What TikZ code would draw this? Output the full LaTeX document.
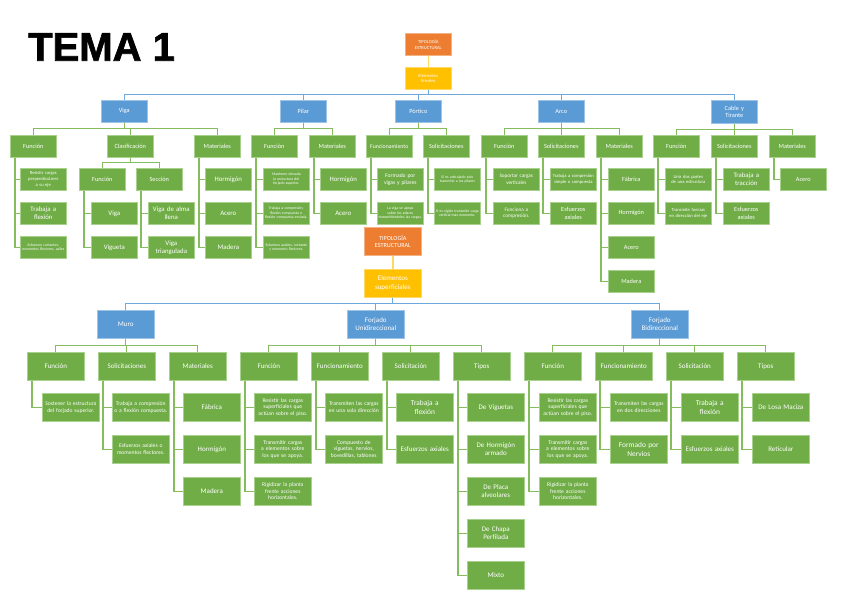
\documentclass[tikz,border=0pt]{standalone}
\usepackage{fontspec}
\setmainfont{Carlito}
\newfontfamily\cb{Carlito}
\newfontfamily\arl[FakeBold=1.6]{Liberation Sans}
\hyphenpenalty=10000
\exhyphenpenalty=10000
\definecolor{gF}{HTML}{70AD47}
\definecolor{gD}{HTML}{A9D18E}
\definecolor{gL}{HTML}{84BC5E}
\definecolor{bF}{HTML}{5B9BD5}
\definecolor{bD}{HTML}{9DC3E6}
\definecolor{bL}{HTML}{6FA8DC}
\definecolor{oF}{HTML}{ED7D31}
\definecolor{oD}{HTML}{F4B183}
\definecolor{yF}{HTML}{FFC000}
\definecolor{yD}{HTML}{FFD966}
\definecolor{yL}{HTML}{FFD966}
\tikzset{
 bx/.style={anchor=north west, align=center, text=white, inner sep=1pt, line width=0.6pt},
 gb/.style={bx, fill=gF, draw=gD},
 bb/.style={bx, fill=bF, draw=bD},
 ob/.style={bx, fill=oF, draw=oD},
 yb/.style={bx, fill=yF, draw=yD},
 T/.style={text width=44pt, minimum height=22pt},
 B/.style={text width=55pt, minimum height=28pt},
 hT/.style={font=\cb\fontsize{6.3}{7.4}\selectfont},
 sT/.style={font=\cb\fontsize{3.8}{4.6}\selectfont},
 s4/.style={font=\cb\fontsize{4.6}{5.6}\selectfont},
 mT/.style={font=\cb\fontsize{6.8}{8}\selectfont},
 hB/.style={font=\cb\fontsize{7}{8.4}\selectfont},
 sB/.style={font=\cb\fontsize{5.6}{6.7}\selectfont},
 mB/.style={font=\cb\fontsize{7.4}{8.8}\selectfont},
 gl/.style={draw=gL, line width=1.2pt},
 bl/.style={draw=bL, line width=1.2pt},
 yl/.style={draw=yL, line width=1.6pt},
}
\begin{document}
\begin{tikzpicture}[x=1pt,y=-1pt]
\useasboundingbox[fill=white] (0,0) rectangle (848,599);
\node[anchor=north west, inner sep=0pt, font=\arl\bfseries\fontsize{40}{40}\selectfont] (title) at (28,33) {TEMA 1};

% ---------- top tree ----------
\node[ob,T,s4] (tO) at (405,33) {TIPOLOGÍA\\ESTRUCTURAL};
\node[yb,T,s4] (tY) at (405,67) {Elementos\\lineales};
\node[bb,T,hT] (viga) at (101,100) {Viga};
\node[bb,T,hT] (pilar) at (280,100) {Pilar};
\node[bb,T,hT] (port) at (395,100) {Pórtico};
\node[bb,T,hT] (arco) at (538,100) {Arco};
\node[bb,T,hT,minimum height=23pt] (cab) at (711,100) {Cable y\\Tirante};

% Viga
\node[gb,T,hT] (vF) at (10,135) {Función};
\node[gb,T,hT] (vC) at (107,135) {Clasificación};
\node[gb,T,hT] (vM) at (194,135) {Materiales};
\node[gb,T,s4] (vF1) at (20,168) {Resistir cargas perpendiculares a su eje};
\node[gb,T,mT] (vF2) at (20,202) {Trabaja a\\flexión};
\node[gb,T,sT] (vF3) at (20,236) {Esfuerzos cortantes, momentos flectores, axiles};
\node[gb,T,hT] (vCF) at (79,168) {Función};
\node[gb,T,hT] (vCS) at (136,168) {Sección};
\node[gb,T,mT] (vCF1) at (91,202) {Viga};
\node[gb,T,mT] (vCF2) at (91,236) {Vigueta};
\node[gb,T,mT] (vCS1) at (148,202) {Viga de alma\\llena};
\node[gb,T,mT] (vCS2) at (148,236) {Viga\\triangulada};
\node[gb,T,mT] (vM1) at (205,168) {Hormigón};
\node[gb,T,mT] (vM2) at (205,202) {Acero};
\node[gb,T,mT] (vM3) at (205,236) {Madera};

% Pilar
\node[gb,T,hT] (pF) at (251,135) {Función};
\node[gb,T,hT] (pM) at (309,135) {Materiales};
\node[gb,T,sT] (pF1) at (263,168) {Mantener elevada la estructura del forjado superior.};
\node[gb,T,sT] (pF2) at (263,202) {Trabaja a compresión, flexión compuesta o flexión compuesta esviada.};
\node[gb,T,sT] (pF3) at (263,236) {Esfuerzos axiales, cortante y momento flectores.};
\node[gb,T,mT] (pM1) at (320,168) {Hormigón};
\node[gb,T,mT] (pM2) at (320,202) {Acero};

% Portico
\node[gb,T,font=\cb\fontsize{5.8}{7}\selectfont] (oF) at (366,135) {Funcionamiento};
\node[gb,T,hT] (oS) at (423,135) {Solicitaciones};
\node[gb,T,font=\cb\fontsize{5.6}{6.8}\selectfont] (oF1) at (377,168) {Formado por\\vigas y pilares};
\node[gb,T,sT] (oF2) at (377,202) {La viga se apoya sobre los pilares transmitiéndoles las cargas.};
\node[gb,T,sT] (oS1) at (434,168) {Si es articulado solo transmite a los pilares};
\node[gb,T,sT] (oS2) at (434,202) {Si es rígido transmite carga vertical más momento.};

% Arco
\node[gb,T,hT] (aF) at (481,135) {Función};
\node[gb,T,hT] (aS) at (538,135) {Solicitaciones};
\node[gb,T,hT] (aM) at (596,135) {Materiales};
\node[gb,T,font=\cb\fontsize{5.2}{6.4}\selectfont] (aF1) at (493,168) {Soportar cargas\\verticales};
\node[gb,T,font=\cb\fontsize{5.2}{6.4}\selectfont] (aF2) at (493,202) {Funciona a\\compresión.};
\node[gb,T,s4] (aS1) at (550,168) {Trabaja a compresión simple o compuesta};
\node[gb,T,hT] (aS2) at (550,202) {Esfuerzos\\axiales};
\node[gb,T,hT] (aM1) at (608,168) {Fábrica};
\node[gb,T,hT] (aM2) at (608,202) {Hormigón};
\node[gb,T,hT] (aM3) at (608,236) {Acero};
\node[gb,T,hT] (aM4) at (608,270) {Madera};

% Cable y Tirante
\node[gb,T,hT] (cF) at (653,135) {Función};
\node[gb,T,hT] (cS) at (711,135) {Solicitaciones};
\node[gb,T,hT] (cM) at (769,135) {Materiales};
\node[gb,T,s4] (cF1) at (665,168) {Unir dos partes de una estructura};
\node[gb,T,s4] (cF2) at (665,202) {Transmite fuerzas en dirección del eje};
\node[gb,T,mT] (cS1) at (723,168) {Trabaja a\\tracción};
\node[gb,T,hT] (cS2) at (723,202) {Esfuerzos\\axiales};
\node[gb,T,hT] (cM1) at (780,168) {Acero};

% ---------- bottom tree ----------
\node[ob,B,font=\cb\fontsize{6.2}{7.6}\selectfont] (bO) at (364,227) {TIPOLOGÍA\\ESTRUCTURAL};
\node[yb,B,hB] (bY) at (364,269) {Elementos\\superficiales};
\node[bb,B,hB] (muro) at (97,310) {Muro};
\node[bb,B,hB] (fu) at (347,310) {Forjado\\Unidireccional};
\node[bb,B,hB] (fb) at (631,310) {Forjado\\Bidireccional};

% Muro
\node[gb,B,hB] (mF) at (27,352) {Función};
\node[gb,B,hB] (mS) at (98,352) {Solicitaciones};
\node[gb,B,hB] (mM) at (169,352) {Materiales};
\node[gb,B,sB] (mF1) at (42,393) {Sostener la estructura del forjado superior.};
\node[gb,B,sB] (mS1) at (112,393) {Trabaja a compresión o a flexión compuesta.};
\node[gb,B,sB] (mS2) at (112,435) {Esfuerzos axiales o momentos flectores.};
\node[gb,B,hB] (mM1) at (183,393) {Fábrica};
\node[gb,B,hB] (mM2) at (183,435) {Hormigón};
\node[gb,B,hB] (mM3) at (183,477) {Madera};

% Forjado unidireccional
\node[gb,B,hB] (uF) at (240,352) {Función};
\node[gb,B,hB] (uN) at (311,352) {Funcionamiento};
\node[gb,B,hB] (uS) at (382,352) {Solicitación};
\node[gb,B,hB] (uT) at (453,352) {Tipos};
\node[gb,B,sB] (uF1) at (254,393) {Resistir las cargas superficiales que actúan sobre el piso.};
\node[gb,B,sB] (uF2) at (254,435) {Transmitir cargas a elementos sobre los que se apoya.};
\node[gb,B,sB] (uF3) at (254,477) {Rigidizar la planta frente acciones horizontales.};
\node[gb,B,sB] (uN1) at (325,393) {Transmiten las cargas en una sola dirección};
\node[gb,B,sB] (uN2) at (325,435) {Compuesto de viguetas, nervios, bovedillas, tablones};
\node[gb,B,mB] (uS1) at (396,393) {Trabaja a\\flexión};
\node[gb,B,hB] (uS2) at (396,435) {Esfuerzos axiales};
\node[gb,B,hB] (uT1) at (467,393) {De Viguetas};
\node[gb,B,hB] (uT2) at (467,435) {De Hormigón\\armado};
\node[gb,B,hB] (uT3) at (467,477) {De Placa\\alveolares};
\node[gb,B,hB] (uT4) at (467,519) {De Chapa\\Perfilada};
\node[gb,B,hB] (uT5) at (467,561) {Mixto};

% Forjado bidireccional
\node[gb,B,hB] (bF) at (524,352) {Función};
\node[gb,B,hB] (bN) at (595,352) {Funcionamiento};
\node[gb,B,hB] (bS) at (666,352) {Solicitación};
\node[gb,B,hB] (bT) at (737,352) {Tipos};
\node[gb,B,sB] (bF1) at (539,393) {Resistir las cargas superficiales que actúan sobre el piso.};
\node[gb,B,sB] (bF2) at (539,435) {Transmitir cargas a elementos sobre los que se apoya.};
\node[gb,B,sB] (bF3) at (539,477) {Rigidizar la planta frente acciones horizontales.};
\node[gb,B,sB] (bN1) at (610,393) {Transmiten las cargas en dos direcciones};
\node[gb,B,mB] (bN2) at (610,435) {Formado por\\Nervios};
\node[gb,B,mB] (bS1) at (681,393) {Trabaja a\\flexión};
\node[gb,B,hB] (bS2) at (681,435) {Esfuerzos axiales};
\node[gb,B,hB] (bT1) at (752,393) {De Losa Maciza};
\node[gb,B,hB] (bT2) at (752,435) {Reticular};

% ---------- connectors ----------
\draw[yl] (tO.south) -- (tY.north);
\draw[yl] (bO.south) -- (bY.north);
\foreach \c in {viga,pilar,port,arco,cab}
  \draw[bl] (tY.south) -- ++(0,5) -| (\c.north);
\foreach \c in {muro,fu,fb}
  \draw[bl] (bY.south) -- ++(0,6) -| (\c.north);
\foreach \p/\c in {viga/vF,viga/vC,viga/vM,pilar/pF,pilar/pM,port/oF,port/oS,
  arco/aF,arco/aS,arco/aM,cab/cF,cab/cS,cab/cM}
  \draw[gl] (\p.south) -- ++(0,6) -| (\c.north);
\foreach \p/\c in {vC/vCF,vC/vCS}
  \draw[gl] (\p.south) -- ++(0,5) -| (\c.north);
\foreach \p/\c in {muro/mF,muro/mS,muro/mM,fu/uF,fu/uN,fu/uS,fu/uT,
  fb/bF,fb/bN,fb/bS,fb/bT}
  \draw[gl] (\p.south) -- ++(0,7) -| (\c.north);
\foreach \p/\c in {vF/vF1,vF/vF2,vF/vF3,vCF/vCF1,vCF/vCF2,vCS/vCS1,vCS/vCS2,
  vM/vM1,vM/vM2,vM/vM3,pF/pF1,pF/pF2,pF/pF3,pM/pM1,pM/pM2,
  oF/oF1,oF/oF2,oS/oS1,oS/oS2,aF/aF1,aF/aF2,aS/aS1,aS/aS2,
  aM/aM1,aM/aM2,aM/aM3,aM/aM4,cF/cF1,cF/cF2,cS/cS1,cS/cS2,cM/cM1,
  mF/mF1,mS/mS1,mS/mS2,mM/mM1,mM/mM2,mM/mM3,
  uF/uF1,uF/uF2,uF/uF3,uN/uN1,uN/uN2,uS/uS1,uS/uS2,
  uT/uT1,uT/uT2,uT/uT3,uT/uT4,uT/uT5,
  bF/bF1,bF/bF2,bF/bF3,bN/bN1,bN/bN2,bS/bS1,bS/bS2,bT/bT1,bT/bT2}
  \draw[gl] ([xshift=5pt]\p.south west) |- (\c.west);
\end{tikzpicture}
\end{document}
